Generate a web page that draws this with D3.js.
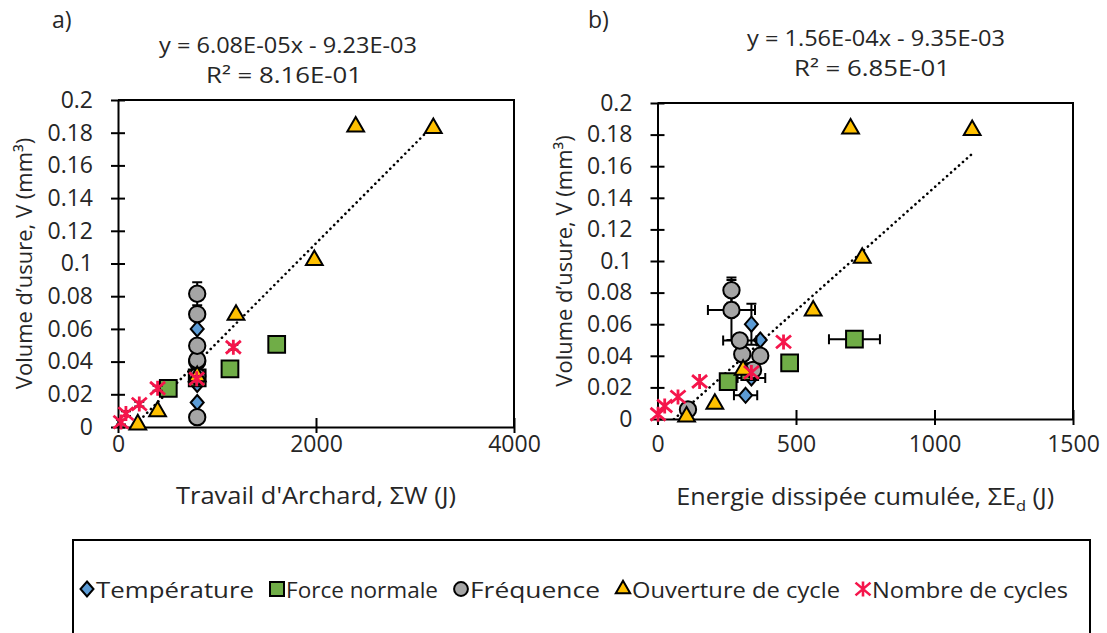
<!DOCTYPE html>
<html><head><meta charset="utf-8">
<script src="https://cdn.jsdelivr.net/npm/d3@7"></script>
<style>
body{margin:0;background:#fff}
svg{display:block}
text{font-family:"Open Sans",sans-serif;fill:#262626}
</style>
</head><body>
<svg id="c" width="1107" height="633"></svg>
<script>
// ---------- DATA ----------
const seriesNames = ["Température","Force normale","Fréquence","Ouverture de cycle","Nombre de cycles"];

// Température
const tempA = [800, 800, 800, 800];
const tempB = [318, 339, 371, 339];
const tempV = [0.015, 0.026, 0.050, 0.060];
const tempErrAY = [0, 0, 0, 0];
const tempErrBX = [42, 50, 0, 0];
const tempErrBY = [0, 0, 0, 0.013];

// Force normale
const forceA = [508, 800, 1131, 1603];
const forceB = [255, 333, 477, 711];
const forceV = [0.0236, 0.030, 0.0355, 0.0505];
const forceErrAY = [0, 0, 0, 0];
const forceErrBX = [0, 0, 0, 92];
const forceErrBY = [0, 0, 0, 0];

// Fréquence
const freqA = [800, 800, 800, 800, 800, 800, 800];
const freqB = [110, 345, 371, 306, 297, 267, 267];
const freqV = [0.006, 0.031, 0.040, 0.041, 0.0497, 0.069, 0.0815];
const freqErrAY = [0, 0, 0, 0, 0, 0.003, 0.007];
const freqErrBX = [0, 0, 0, 0, 60, 85, 0];
const freqErrBY = [0, 0, 0, 0, 0, 0.019, 0.008];

// Ouverture de cycle
const ouvA = [200, 400, 800, 1192, 1983, 2401, 3185];
const ouvB = [105, 207, 309, 562, 739, 697, 1136];
const ouvV = [0.0015, 0.0095, 0.031, 0.0685, 0.102, 0.1837, 0.1828];
const ouvErrAY = [0, 0, 0, 0, 0, 0, 0];
const ouvErrBX = [0, 0, 0, 0, 0, 0, 0];
const ouvErrBY = [0, 0, 0, 0, 0, 0, 0];

// Nombre de cycles
const cycA = [30, 80, 215, 400, 795, 1165];
const cycB = [2, 26, 74, 152, 339, 455];
const cycV = [0.003, 0.0082, 0.014, 0.0237, 0.0295, 0.0488];
const cycErrAY = [0.0015, 0.0015, 0.0015, 0.0015, 0.0015, 0.0015];
const cycErrBX = [0, 0, 0, 0, 0, 0];
const cycErrBY = [0, 0, 0, 0, 0, 0];

// Axes / ticks
const yTicks = [0, 0.02, 0.04, 0.06, 0.08, 0.1, 0.12, 0.14, 0.16, 0.18, 0.2];
const xTicksA = [0, 2000, 4000];
const xTicksB = [0, 500, 1000, 1500];

// Trend lines
const slopeA = 6.08e-5, interceptA = -9.23e-3;
const slopeB = 1.56e-4, interceptB = -9.35e-3;
const eqA = ["y = 6.08E-05x - 9.23E-03", "R² = 8.16E-01"];
const eqB = ["y = 1.56E-04x - 9.35E-03", "R² = 6.85E-01"];

// ---------- DRAW ----------
const svg = d3.select("#c");
const colors = ["#5B9BD5", "#70AD47", "#A5A5A5", "#FFC000", "#F5154B"];

const diamondType = { draw(ctx, size) { const w = 6.5, h = 7.5; ctx.moveTo(0,-h); ctx.lineTo(w,0); ctx.lineTo(0,h); ctx.lineTo(-w,0); ctx.closePath(); } };
const starType = { draw(ctx, size) { const r = 7.5; ctx.moveTo(-r,-r*0.85); ctx.lineTo(r,r*0.85); ctx.moveTo(r,-r*0.85); ctx.lineTo(-r,r*0.85); ctx.moveTo(0,-r); ctx.lineTo(0,r); } };
const symbolDefs = [
  d3.symbol().type(diamondType),
  d3.symbol().type(d3.symbolSquare).size(280),
  d3.symbol().type(d3.symbolCircle).size(210),
  d3.symbol().type(d3.symbolTriangle).size(122),
  d3.symbol().type(starType)
];

function makeSeries(which) {
  const xs = which === "a" ? [tempA, forceA, freqA, ouvA, cycA] : [tempB, forceB, freqB, ouvB, cycB];
  const vs = [tempV, forceV, freqV, ouvV, cycV];
  const ex = which === "a" ? [null,null,null,null,null] : [tempErrBX, forceErrBX, freqErrBX, ouvErrBX, cycErrBX];
  const ey = which === "a" ? [tempErrAY, forceErrAY, freqErrAY, ouvErrAY, cycErrAY] : [tempErrBY, forceErrBY, freqErrBY, ouvErrBY, cycErrBY];
  return seriesNames.map((n, i) => ({
    name: n, idx: i,
    pts: vs[i].map((v, j) => ({x: xs[i][j], v, ex: ex[i] ? ex[i][j] : 0, ey: ey[i][j]}))
  }));
}

const panels = [
  {id:"a", label:"a)", xDomain:[0,4000], xTicks:xTicksA, left:118, right:514, top:100, bottom:427,
   slope:slopeA, intercept:interceptA, eq:eqA, eqX:288, labelX:52, yTitleX:23, xTitleY:504, xTitleW:280},
  {id:"b", label:"b)", xDomain:[0,1500], xTicks:xTicksB, left:657.5, right:1073, top:103, bottom:419,
   slope:slopeB, intercept:interceptB, eq:eqB, eqX:876, labelX:588, yTitleX:563, xTitleY:505, xTitleW:378}
];

panels.forEach(p => {
  const g = svg.append("g");
  const x = d3.scaleLinear().domain(p.xDomain).range([p.left, p.right]);
  const y = d3.scaleLinear().domain([0, 0.2]).range([p.bottom, p.top]);

  g.append("path").attr("d", `M${p.left},${p.top}H${p.right}V${p.bottom}`)
    .attr("fill","none").attr("stroke","#000").attr("stroke-width",2);

  const yAxis = d3.axisLeft(y).tickValues(yTicks).tickFormat(d3.format("~g")).tickSizeInner(7).tickSizeOuter(0).tickPadding(18);
  const ya = g.append("g").attr("transform", `translate(${p.left},0)`).call(yAxis);
  ya.select(".domain").attr("stroke","#000").attr("stroke-width",2);
  ya.selectAll(".tick line").attr("stroke","#000").attr("stroke-width",2).attr("x1",7);
  ya.selectAll(".tick text").style("font-size","23px").style("font-family","'Open Sans',sans-serif").attr("fill","#262626");

  const xAxis = d3.axisBottom(x).tickValues(p.xTicks).tickFormat(d3.format("d")).tickSizeInner(6).tickSizeOuter(0).tickPadding(10);
  const xa = g.append("g").attr("transform", `translate(0,${p.bottom})`).call(xAxis);
  xa.select(".domain").attr("stroke","#000").attr("stroke-width",2);
  xa.selectAll(".tick line").attr("stroke","#000").attr("stroke-width",2).attr("y1",-9);
  xa.selectAll(".tick text").style("font-size","23px").style("font-family","'Open Sans',sans-serif").attr("fill","#262626")
    .attr("y", null).attr("dy", null).attr("transform", `translate(0,${452 - p.bottom})`).attr("dominant-baseline","auto");

  const clipId = "clip" + p.id;
  svg.append("clipPath").attr("id", clipId).append("rect")
    .attr("x", p.left).attr("y", p.top - 20).attr("width", p.right - p.left + 20).attr("height", p.bottom - p.top + 20);

  const series = makeSeries(p.id);
  const allX = series.flatMap(s => s.pts.map(d => d.x));
  const x0 = d3.min(allX), x1 = d3.max(allX);
  g.append("line")
    .attr("clip-path", `url(#${clipId})`)
    .attr("x1", x(x0)).attr("y1", y(p.slope * x0 + p.intercept))
    .attr("x2", x(x1)).attr("y2", y(p.slope * x1 + p.intercept))
    .attr("stroke","#000").attr("stroke-width",2.6).attr("stroke-dasharray","0.1,5.2").attr("stroke-linecap","round");

  series.forEach(s => {
    const sg = g.append("g");
    const cap = 5;
    s.pts.forEach(d => {
      const cx = x(d.x), cy = y(d.v);
      if (d.ex > 0) {
        const xl = x(d.x - d.ex), xr = x(d.x + d.ex);
        sg.append("path").attr("d", `M${xl},${cy}H${xr}M${xl},${cy-cap}V${cy+cap}M${xr},${cy-cap}V${cy+cap}`)
          .attr("stroke","#000").attr("stroke-width",2).attr("fill","none");
      }
      if (d.ey > 0) {
        const yt = y(d.v + d.ey), yb = y(Math.max(0, d.v - d.ey));
        sg.append("path").attr("d", `M${cx},${yt}V${yb}M${cx-cap},${yt}H${cx+cap}M${cx-cap},${yb}H${cx+cap}`)
          .attr("stroke","#000").attr("stroke-width",2).attr("fill","none");
      }
    });
    sg.selectAll("path.m").data(s.pts).enter().append("path").attr("class","m")
      .attr("transform", d => `translate(${x(d.x)},${y(d.v)})`)
      .attr("d", symbolDefs[s.idx]())
      .attr("fill", s.idx === 4 ? "none" : colors[s.idx])
      .attr("stroke", s.idx === 4 ? colors[4] : "#000")
      .attr("stroke-width", s.idx === 4 ? 2.8 : 2);
  });

  svg.append("text").attr("x", p.labelX).attr("y", 28).style("font-size","23px").text(p.label);
  svg.append("text").attr("x", p.eqX).attr("y", p.id === "a" ? 53 : 46).attr("text-anchor","middle").style("font-size","21px")
    .attr("textLength", 258).attr("lengthAdjust","spacingAndGlyphs").text(p.eq[0]);
  svg.append("text").attr("x", p.eqX - 4).attr("y", p.id === "a" ? 83 : 76).attr("text-anchor","middle").style("font-size","21px")
    .attr("textLength", 156).attr("lengthAdjust","spacingAndGlyphs").text(p.eq[1]);

  svg.append("text").attr("transform", `translate(${p.yTitleX},${(p.top + p.bottom)/2}) rotate(-90)`)
    .attr("text-anchor","middle").attr("dominant-baseline","central").style("font-size","22px")
    .text("Volume d’usure, V (mm³)");

  const xt = svg.append("text").attr("x", (p.left + p.right)/2).attr("y", p.xTitleY).attr("text-anchor","middle").style("font-size","23px");
  if (p.id === "a") {
    xt.text("Travail d'Archard, ΣW (J)");
  } else {
    xt.append("tspan").text("Energie dissipée cumulée, ΣE");
    xt.append("tspan").attr("dy", 6).style("font-size","15px").text("d");
    xt.append("tspan").attr("dy", -6).text(" (J)");
  }
  xt.attr("textLength", p.xTitleW).attr("lengthAdjust","spacingAndGlyphs");
});

// ---------- LEGEND ----------
const lg = svg.append("g");
lg.append("rect").attr("x", 73).attr("y", 540).attr("width", 1017).attr("height", 120)
  .attr("fill","none").attr("stroke","#000").attr("stroke-width",2);
const itemsG = lg.append("g");
const legendTextW = [158, 152, 130, 208, 196];
let cursor = 0;
const ly = 589;
seriesNames.forEach((n, i) => {
  const ig = itemsG.append("g").attr("transform", `translate(${cursor},0)`);
  ig.append("path").attr("transform", `translate(7,${ly})`)
    .attr("d", (i === 1 ? d3.symbol().type(d3.symbolSquare).size(196) : i === 2 ? d3.symbol().type(d3.symbolCircle).size(150) : i === 3 ? d3.symbol().type(d3.symbolTriangle).size(90) : symbolDefs[i])())
    .attr("fill", i === 4 ? "none" : colors[i]).attr("stroke", i === 4 ? colors[4] : "#000").attr("stroke-width", i === 4 ? 2.6 : 2);
  ig.append("text").attr("x", 16).attr("y", ly).attr("dominant-baseline","central").style("font-size","22px")
    .attr("textLength", legendTextW[i]).attr("lengthAdjust","spacingAndGlyphs").text(n);
  cursor += 16 + legendTextW[i] + 16;
});
cursor -= 16;
itemsG.attr("transform", `translate(${574 - cursor/2},0)`);
</script>
</body></html>
